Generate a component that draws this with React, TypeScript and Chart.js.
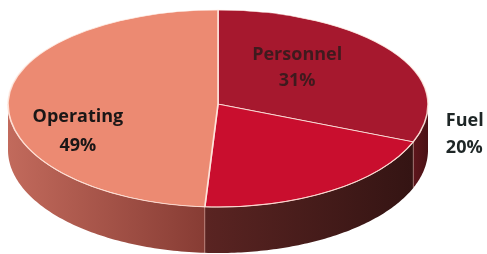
import { useEffect, useRef } from "react";
import { Chart, registerables } from "chart.js";

Chart.register(...registerables);

// ---- data ----
const categories = ["Personnel", "Fuel", "Operating"];
const shares = [31, 20, 49];
const valueLabels = ["31%", "20%", "49%"];

// ---- styles ----
const topColors = ["#A6182E", "#C90E2E", "#EC8A72"];
const sideStops = [
  ["#5e161c", "#4a1216"],
  ["#5a2422", "#341413"],
  ["#C26A5C", "#873C34"],
];
const labelColors = ["#3f1a1e", "#1e2626", "#1a1616"];

const W = 487;
const H = 254;
const GEOM = { cx: 218, cy: 104, rx: 210, ryTop: 94, ryBot: 103, depth: 46 };

// label placement (relative to the ellipse: fraction of rx, absolute line centres)
const LABEL_POS = [
  { fx: 0.377, y1: 55, y2: 81, align: "center" as CanvasTextAlign },
  { fx: 1.085, y1: 121, y2: 148, align: "left" as CanvasTextAlign },
  { fx: -0.667, y1: 117, y2: 146, align: "center" as CanvasTextAlign },
];

function proj(a: number, dy: number): [number, number] {
  const { cx, cy, rx, ryTop, ryBot } = GEOM;
  const s = Math.sin(a);
  return [cx + rx * Math.cos(a), cy + (s < 0 ? ryTop : ryBot) * s + dy];
}

const pie3d = {
  id: "pie3d",
  beforeDatasetsDraw(chart: any) {
    const ctx: CanvasRenderingContext2D = chart.ctx;
    const arcs = chart.getDatasetMeta(0).data as any[];
    const { cx, cy, rx, ryTop, ryBot, depth } = GEOM;

    // --- side walls (front half only: angles 0..PI) ---
    arcs.forEach((arc, i) => {
      const { startAngle, endAngle } = arc.getProps(["startAngle", "endAngle"], true);
      const s = Math.max(startAngle, 0);
      const e = Math.min(endAngle, Math.PI);
      if (e <= s) return;
      const n = 80;
      ctx.save();
      ctx.beginPath();
      for (let k = 0; k <= n; k++) {
        const t = s + ((e - s) * k) / n;
        const [x, y] = proj(t, 0);
        if (k === 0) ctx.moveTo(x, y);
        else ctx.lineTo(x, y);
      }
      for (let k = n; k >= 0; k--) {
        const t = s + ((e - s) * k) / n;
        const [x, y] = proj(t, depth);
        ctx.lineTo(x, y);
      }
      ctx.closePath();
      const xa = proj(s, 0)[0];
      const xb = proj(e, 0)[0];
      const g = ctx.createLinearGradient(Math.min(xa, xb), 0, Math.max(xa, xb), 0);
      if (xa > xb) {
        // goes right -> left
        g.addColorStop(0, sideStops[i][0]);
        g.addColorStop(1, sideStops[i][1]);
      } else {
        g.addColorStop(0, sideStops[i][0]);
        g.addColorStop(1, sideStops[i][1]);
      }
      ctx.fillStyle = g;
      ctx.fill();
      ctx.restore();
    });

    // light seam on side at slice boundaries
    arcs.forEach((arc) => {
      const { startAngle } = arc.getProps(["startAngle"], true);
      const a = startAngle;
      if (a > 0.02 && a < Math.PI - 0.02) {
        const [x1, y1] = proj(a, 0);
        const [x2, y2] = proj(a, depth);
        ctx.save();
        ctx.strokeStyle = "rgba(255,210,200,0.35)";
        ctx.lineWidth = 1;
        ctx.beginPath();
        ctx.moveTo(x1, y1);
        ctx.lineTo(x2, y2);
        ctx.stroke();
        ctx.restore();
      }
    });

    // --- top faces drawn by Chart.js arcs, mapped to an ellipse in two halves ---
    const halves = [
      { clipY: 0, clipH: cy, ry: ryTop },
      { clipY: cy, clipH: H - cy, ry: ryBot },
    ];
    halves.forEach((h) => {
      ctx.save();
      ctx.beginPath();
      ctx.rect(0, h.clipY, W, h.clipH);
      ctx.clip();
      const a0 = arcs[0];
      const R = a0.outerRadius;
      ctx.translate(cx, cy);
      ctx.scale(rx / R, h.ry / R);
      ctx.translate(-a0.x, -a0.y);
      arcs.forEach((arc) => arc.draw(ctx));
      ctx.restore();
    });

    // rim highlight on front edge
    ctx.save();
    ctx.strokeStyle = "rgba(255,220,210,0.75)";
    ctx.lineWidth = 1;
    ctx.beginPath();
    const n = 120;
    for (let k = 0; k <= n; k++) {
      const t = 0.08 * Math.PI + (0.92 * Math.PI * k) / n;
      const [x, y] = proj(t, 0);
      if (k === 0) ctx.moveTo(x, y);
      else ctx.lineTo(x, y);
    }
    ctx.stroke();
    ctx.restore();
    return false;
  },
  afterDraw(chart: any) {
    const ctx: CanvasRenderingContext2D = chart.ctx;
    const { cx, rx } = GEOM;
    ctx.save();
    ctx.font = "700 18px 'Open Sans', sans-serif";
    ctx.textBaseline = "middle";
    categories.forEach((name, i) => {
      const p = LABEL_POS[i];
      const x = cx + rx * p.fx;
      ctx.textAlign = p.align;
      ctx.fillStyle = labelColors[i];
      ctx.fillText(name, x, p.y1);
      ctx.fillText(valueLabels[i], x, p.y2);
    });
    ctx.restore();
  },
};

export default function App() {
  const ref = useRef<HTMLCanvasElement | null>(null);
  useEffect(() => {
    if (!ref.current) return;
    const chart = new Chart(ref.current, {
      type: "pie",
      data: {
        labels: categories,
        datasets: [
          {
            data: shares,
            backgroundColor: topColors,
            borderColor: "rgba(255,236,228,0.85)",
            borderWidth: 1,
          },
        ],
      },
      options: {
        responsive: false,
        animation: false,
        events: [],
        layout: { padding: 0 },
        plugins: {
          legend: { display: false },
          tooltip: { enabled: false },
        },
      },
      plugins: [pie3d],
    });
    return () => chart.destroy();
  }, []);
  return (
    <div style={{ position: "fixed", left: 0, top: 0, width: W, height: H, background: "#fff" }}>
      <canvas ref={ref} width={W} height={H} style={{ display: "block" }} />
    </div>
  );
}
